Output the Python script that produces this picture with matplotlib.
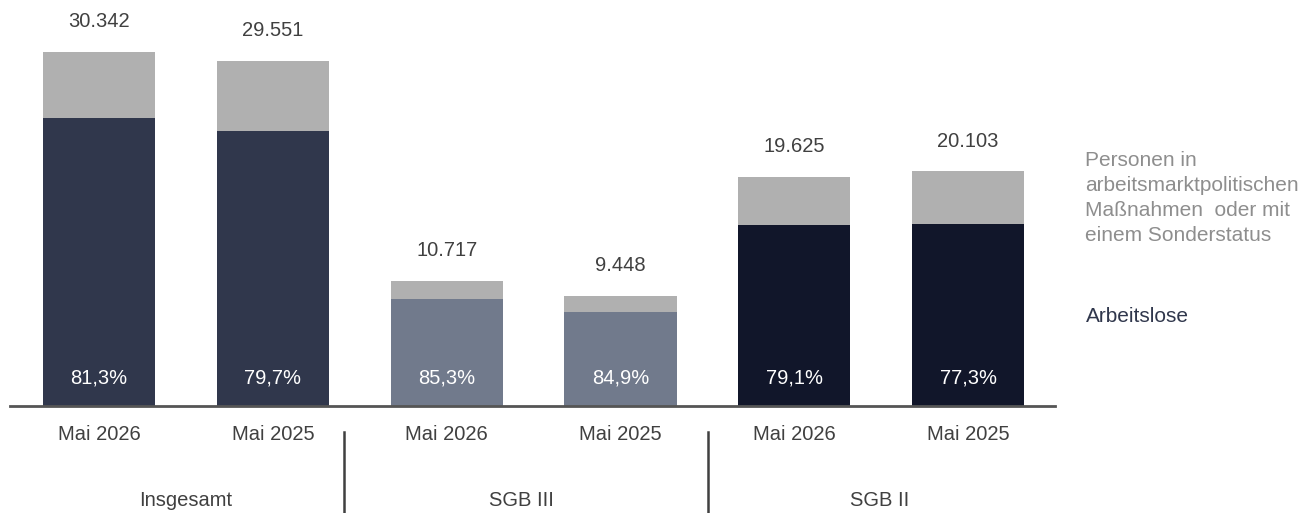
import numpy as np
import matplotlib
matplotlib.use("Agg")
import matplotlib.pyplot as plt

plt.rcParams['font.family'] = ['Liberation Sans', 'DejaVu Sans']

# data
periods = ["Mai 2026", "Mai 2025", "Mai 2026", "Mai 2025", "Mai 2026", "Mai 2025"]
groups = ["Insgesamt", "SGB III", "SGB II"]
totals = np.array([30342, 29551, 10717, 9448, 19625, 20103])
share_arbeitslose = np.array([81.3, 79.7, 85.3, 84.9, 79.1, 77.3])  # percent
legend_upper = "Personen in\narbeitsmarktpolitischen\nMaßnahmen  oder mit\neinem Sonderstatus"
legend_lower = "Arbeitslose"

dark_cols = ["#30374c", "#30374c", "#717a8c", "#717a8c", "#11162a", "#11162a"]
gray = "#b0b0b0"
txt = "#404040"

arbeitslose = totals * share_arbeitslose / 100
rest = totals - arbeitslose

fig = plt.figure(figsize=(13.04, 5.13), dpi=100)
ax = fig.add_axes([10 / 1304, 107 / 513, 1045 / 1304, 406 / 513])
x = np.arange(len(totals))

ax.bar(x, arbeitslose, width=0.645, color=dark_cols)
ax.bar(x, rest, bottom=arbeitslose, width=0.645, color=gray)

for xi, t, p in zip(x, totals, share_arbeitslose):
    ax.text(xi, t + 2550, f"{t:,}".replace(",", "."), ha="center", va="center",
            fontsize=14.5, color=txt)
    ax.text(xi, 2400, f"{p:.1f}%".replace(".", ","), ha="center", va="center",
            fontsize=14.5, color="white")

ax.set_xlim(-0.512, 5.50)
ax.set_ylim(0, 34750)
for s in ["top", "right", "left"]:
    ax.spines[s].set_visible(False)
ax.spines["bottom"].set_color("#555555")
ax.spines["bottom"].set_linewidth(2)
ax.set_yticks([])
ax.set_xticks(x)
ax.set_xticklabels(periods, fontsize=14.5, color=txt)
ax.tick_params(axis="x", length=0, pad=14)

# group labels and separators
for gx, g in zip([0.5, 2.43, 4.49], groups):
    ax.text(gx, -0.232, g, transform=ax.get_xaxis_transform(), ha="center",
            va="center", fontsize=14.5, color=txt, clip_on=False)
for sx in [1.41, 3.504]:
    ax.plot([sx, sx], [-0.064, -0.27], transform=ax.get_xaxis_transform(),
            color="#404040", lw=1.8, clip_on=False)

fig.text(1085 / 1304, 1 - 151 / 513, legend_upper, ha="left", va="top",
         fontsize=15, color="#8e8e8e", linespacing=1.4)
fig.text(1086 / 1304, 1 - 316 / 513, legend_lower, ha="left", va="center",
         fontsize=15, color="#30374c")

fig.savefig("out.png", dpi=100)
